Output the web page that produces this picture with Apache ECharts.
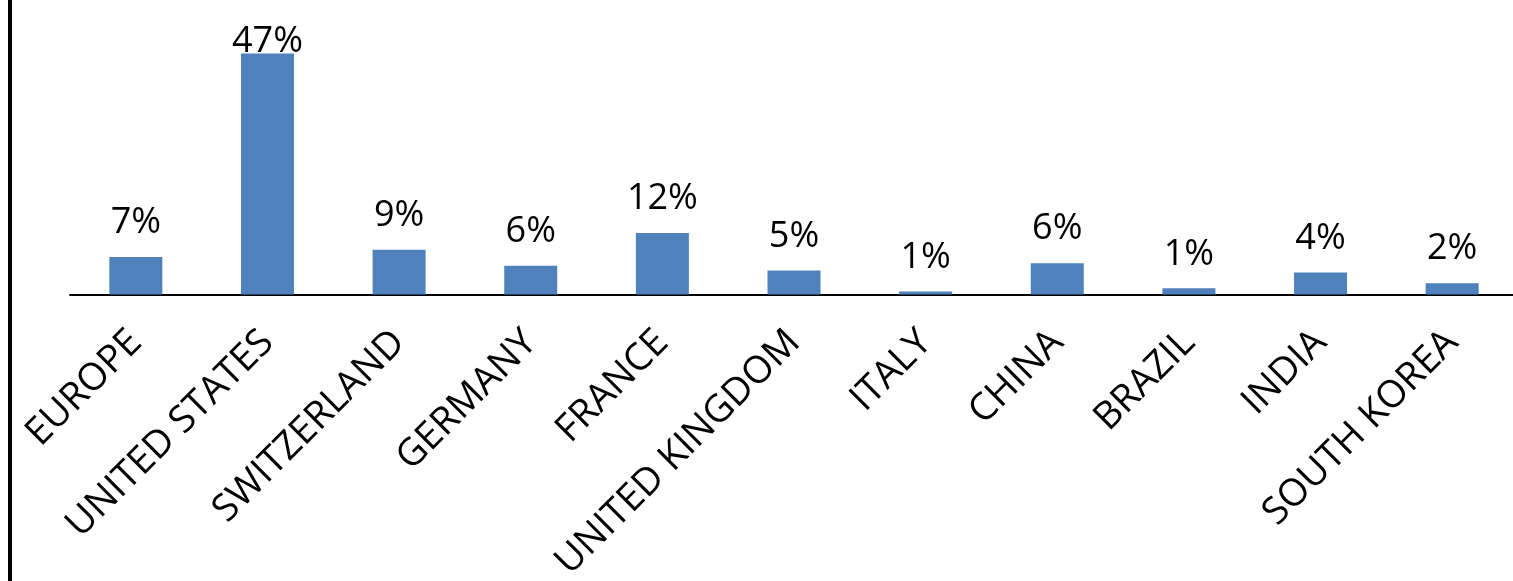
<!DOCTYPE html>
<html>
<head>
<meta charset="utf-8">
<script src="https://cdn.jsdelivr.net/npm/echarts@6/dist/echarts.min.js"></script>
<style>
html,body{margin:0;padding:0;background:#fff;}
#chart{width:1513px;height:581px;}
</style>
</head>
<body>
<div id="chart"></div>
<script>
const categories = ['EUROPE','UNITED STATES','SWITZERLAND','GERMANY','FRANCE','UNITED KINGDOM','ITALY','CHINA','BRAZIL','INDIA','SOUTH KOREA'];
const shares = [7.3, 47, 8.7, 5.6, 12.0, 4.7, 0.6, 6.1, 1.2, 4.3, 2.2];

const maxVal = Math.max(...shares);
const seriesData = shares.map(v => v === maxVal
  ? { value: v, label: { distance: -6 } }
  : { value: v });

const chart = echarts.init(document.getElementById('chart'));
chart.setOption({
  animation: false,
  grid: { left: 70, width: 1448, top: 38, bottom: 286.5, containLabel: false, outerBoundsMode: 'none' },
  graphic: [{
    type: 'rect', left: 8, top: 0,
    shape: { width: 4, height: 581 },
    style: { fill: '#000' }
  }],
  xAxis: {
    type: 'category',
    data: categories,
    axisLine: { show: true, lineStyle: { color: '#000', width: 2 } },
    axisTick: { show: false },
    axisLabel: {
      rotate: 45, interval: 0, margin: 42,
      fontFamily: 'Open Sans', fontSize: 38, color: '#000'
    }
  },
  yAxis: {
    type: 'value', min: 0, max: 50, show: false,
    splitLine: { show: false }
  },
  series: [{
    type: 'bar',
    data: seriesData,
    barWidth: 53,
    itemStyle: { color: '#4F81BD' },
    label: {
      show: true, position: 'top', distance: 16,
      fontFamily: 'Open Sans', fontSize: 36, color: '#000',
      formatter: p => Math.round(p.value) + '%'
    }
  }]
});
</script>
</body>
</html>
